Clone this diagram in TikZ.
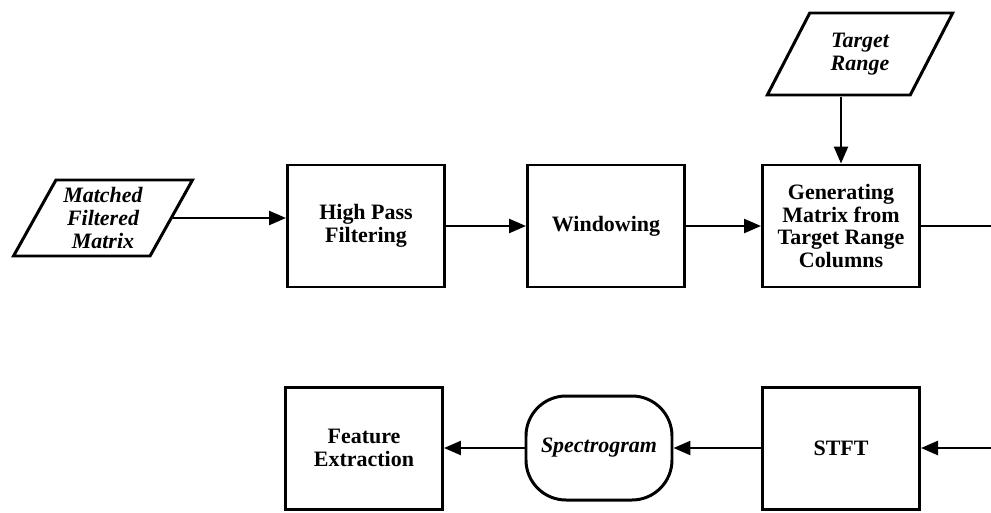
\documentclass[tikz,border=0pt]{standalone}
\usepackage{fontspec}
\setmainfont{Liberation Serif}
\usetikzlibrary{positioning,shapes.geometric,arrows.meta}
\tikzset{
   every path/.style={>={Triangle[length=3.4mm,width=2.8mm]}},
   flow/.style={->,line width=1.4pt},
   link/.style={-,line width=1.4pt},
   procbox/.style={rectangle,draw,line width=1.7pt,minimum width=3.14cm,minimum height=2.44cm,align=center,inner sep=1pt,font=\fontsize{12.5}{13}\selectfont\bfseries},
   databox/.style={trapezium,trapezium left angle=60,trapezium right angle=120,trapezium stretches=true,draw,line width=1.7pt,align=center,inner sep=1pt,font=\fontsize{12.5}{13}\selectfont\bfseries\itshape},
   termbox/.style={rectangle,rounded corners=0.8cm,draw,line width=1.7pt,minimum width=2.92cm,minimum height=2.08cm,font=\fontsize{12.5}{13}\selectfont\bfseries\itshape},
}

\begin{document}
\begin{tikzpicture}
      \useasboundingbox (0,0) rectangle (19.82,-10.24);

      \node (hpf) [procbox]
        at (7.32,-4.52)
        {High Pass\\Filtering};

      \node (mfm) [databox, left of = hpf, node distance = 5.26cm, yshift = 0.16cm,
        minimum width = 3.6cm, minimum height = 1.52cm]
        {Matched\\Filtered\\Matrix};

      \node (win) [procbox, right of = hpf, node distance = 4.8cm]
        {Windowing};

      \node (gen) [procbox, right of = win, node distance = 4.7cm]
        {Generating\\Matrix from\\Target Range\\Columns};

      \node (tr) [databox, above of = gen, node distance = 3.44cm, xshift = 0.38cm,
        minimum width = 3.72cm, minimum height = 1.64cm]
        {Target\\Range};

      \node (stft) [procbox, below of = gen, node distance = 4.44cm]
        {STFT};

      \node (spec) [termbox, left of = stft, node distance = 4.84cm]
        {Spectrogram};

      \node (feat) [procbox, left of = spec, node distance = 4.7cm]
        {Feature\\Extraction};

      % right border of the page
      \coordinate (rim) at (19.82,0);

      \draw[flow] (mfm.east) -- (mfm.east -| hpf.west);
      \draw[flow] (hpf.east) -- (win.west);
      \draw[flow] (win.east) -- (gen.west);
      \draw[flow] (tr.south -| gen.north) -- (gen.north);
      \draw[link] (gen.east) -- (gen.east -| rim);
      \draw[flow] (stft.east -| rim) -- (stft.east);
      \draw[flow] (stft.west) -- (spec.east);
      \draw[flow] (spec.west) -- (feat.east);
\end{tikzpicture}
\end{document}
